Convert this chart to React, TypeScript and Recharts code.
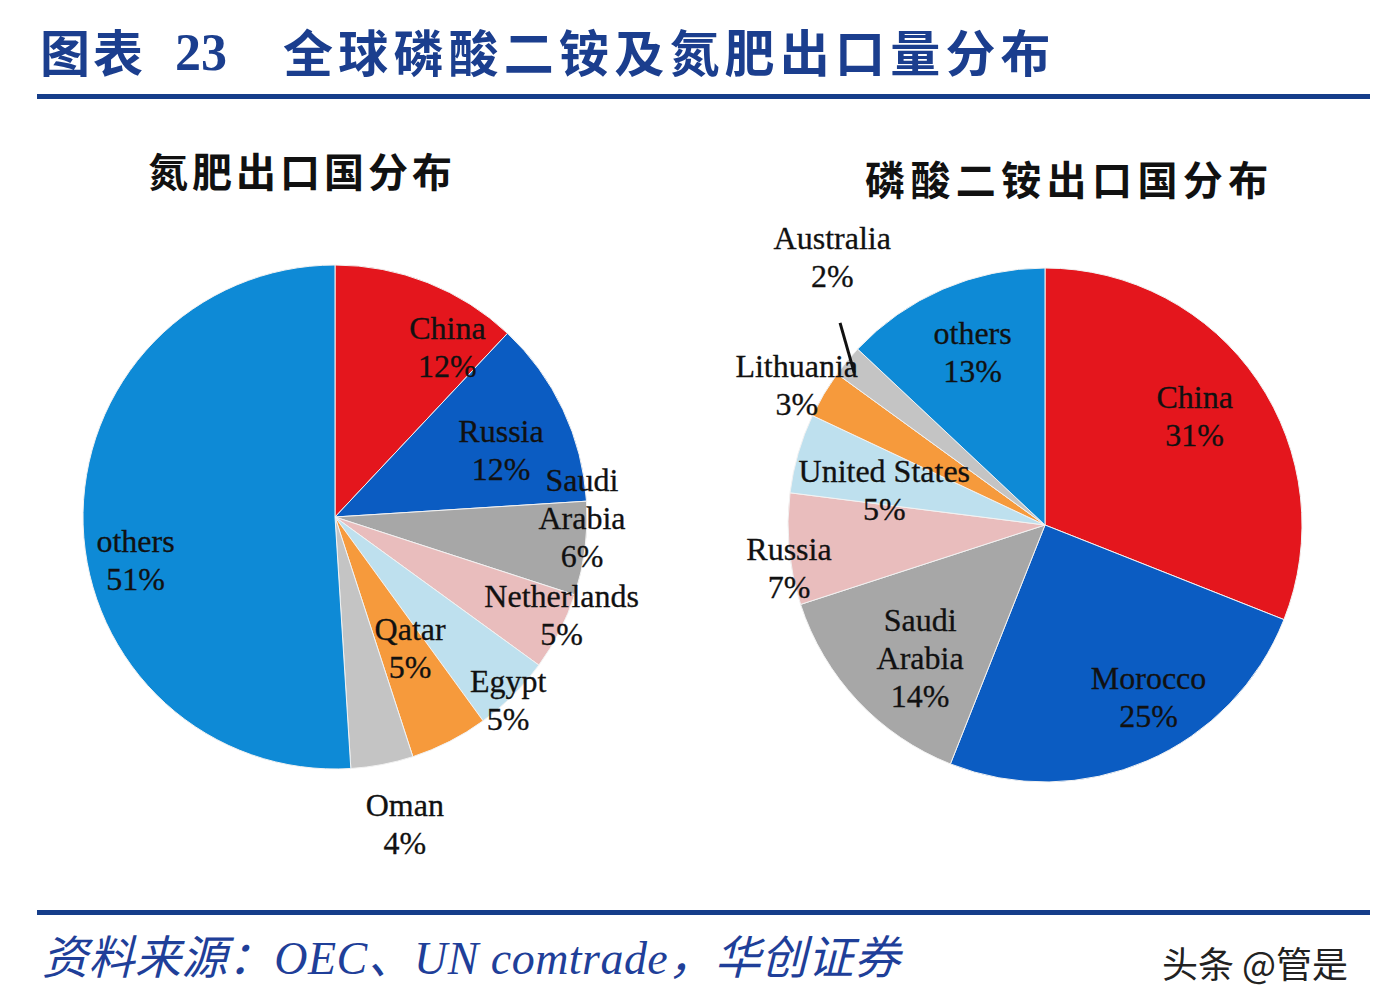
import { PieChart, Pie, Cell } from "recharts";

const nitrogenNames = ["China", "Russia", "Saudi\nArabia", "Netherlands", "Egypt", "Qatar", "Oman", "others"];
const nitrogenShares = [12, 12, 6, 5, 5, 5, 4, 51];

const dapNames = ["China", "Morocco", "Saudi\nArabia", "Russia", "United States", "Lithuania", "Australia", "others"];
const dapShares = [31, 25, 14, 7, 5, 3, 2, 13];

const sliceColors = ["#E4161D", "#0B5CC2", "#A7A7A7", "#E9BDBD", "#BEE0EE", "#F69A3C", "#C4C4C4", "#0E8AD6"];

// label placement per slice: [radius factor, clockwise shift in degrees]
const nitrogenLabelPos = [[0.81, 11.8], [0.71, 3.3], [0.98, -7], [0.98, -3.6], [1.0, 1.6], [0.6, -2.8], [1.25, -2], [0.81, -10.4]];
const dapLabelPos = [[0.72, -1.8], [0.78, -7.7], [0.71, -3.6], [1.01, -4.1], [0.64, -3.9], [1.11, -1.1], [1.33, 11.9], [0.73, 0.7]];

const nitrogenData = nitrogenNames.map((name, i) => ({ name, value: nitrogenShares[i] }));
const dapData = dapNames.map((name, i) => ({ name, value: dapShares[i] }));

const RAD = Math.PI / 180;
const LINE_H = 38;

function polar(cx: number, cy: number, r: number, deg: number) {
  return [cx + r * Math.cos(deg * RAD), cy - r * Math.sin(deg * RAD)];
}

function makeLabel(names: string[], shares: number[], pos: number[][], leaderIndex = -1) {
  return (props: any) => {
    const { cx, cy, midAngle, outerRadius, index } = props;
    const [f, shift] = pos[index];
    const [x, y] = polar(cx, cy, outerRadius * f, midAngle - shift);
    const lines = [...names[index].split("\n"), `${shares[index]}%`];
    const y0 = y - ((lines.length - 1) * LINE_H) / 2;
    let leader = null;
    if (index === leaderIndex) {
      const [x1, y1] = polar(cx, cy, outerRadius * 0.95, midAngle + 1);
      const [x2, y2] = polar(cx, cy, outerRadius * 1.12, midAngle - 5);
      leader = <line x1={x1} y1={y1} x2={x2} y2={y2} stroke="#111" strokeWidth={3} />;
    }
    return (
      <g>
        {leader}
        {lines.map((t, i) => (
          <text
            key={i}
            x={x}
            y={y0 + i * LINE_H}
            textAnchor="middle"
            dominantBaseline="central"
            fontFamily="'Liberation Serif', serif"
            fontSize={32}
            fill="#111"
            stroke="#111"
            strokeWidth={0.3}
          >
            {t}
          </text>
        ))}
      </g>
    );
  };
}

export default function App() {
  return (
    <div style={{ position: "absolute", left: 0, top: 0, width: 1374, height: 1008, background: "#fff", overflow: "hidden" }}>
      <PieChart width={1374} height={1008} margin={{ top: 0, right: 0, bottom: 0, left: 0 }}>
        <Pie
          data={nitrogenData}
          dataKey="value"
          nameKey="name"
          cx={335}
          cy={517}
          outerRadius={252}
          startAngle={90}
          endAngle={-270}
          stroke="#f2f2f2"
          strokeWidth={1}
          labelLine={false}
          label={makeLabel(nitrogenNames, nitrogenShares, nitrogenLabelPos)}
          isAnimationActive={false}
        >
          {nitrogenData.map((_, i) => (
            <Cell key={i} fill={sliceColors[i]} />
          ))}
        </Pie>
        <Pie
          data={dapData}
          dataKey="value"
          nameKey="name"
          cx={1045}
          cy={525}
          outerRadius={257}
          startAngle={90}
          endAngle={-270}
          stroke="#f2f2f2"
          strokeWidth={1}
          labelLine={false}
          label={makeLabel(dapNames, dapShares, dapLabelPos, 6)}
          isAnimationActive={false}
        >
          {dapData.map((_, i) => (
            <Cell key={i} fill={sliceColors[i]} />
          ))}
        </Pie>
      </PieChart>
      <svg width={1374} height={1008} style={{ position: "absolute", left: 0, top: 0, pointerEvents: "none" }}>
        <text x={40} y={50} dominantBaseline="central" fontFamily="'Noto Sans CJK SC'" fontWeight={700} fontSize={50} fill="#1B3E8E" letterSpacing={3}>
          图表
        </text>
        <text x={175} y={52} dominantBaseline="central" fontFamily="'Liberation Serif', serif" fontWeight={700} fontSize={52} fill="#1B3E8E">
          23
        </text>
        <text x={283} y={50} dominantBaseline="central" fontFamily="'Noto Sans CJK SC'" fontWeight={700} fontSize={50} fill="#1B3E8E" letterSpacing={5.2}>
          全球磷酸二铵及氮肥出口量分布
        </text>
        <rect x={37} y={94} width={1333} height={5} fill="#153D8A" />
        <text x={148} y={170} dominantBaseline="central" fontFamily="'Noto Sans CJK SC'" fontWeight={700} fontSize={40} fill="#111" letterSpacing={4}>
          氮肥出口国分布
        </text>
        <text x={865} y={178} dominantBaseline="central" fontFamily="'Noto Sans CJK SC'" fontWeight={700} fontSize={40} fill="#111" letterSpacing={5.4}>
          磷酸二铵出口国分布
        </text>
        <rect x={37} y={910} width={1333} height={5} fill="#153D8A" />
        <text
          x={42}
          y={958}
          dominantBaseline="central"
          fontFamily="'Liberation Serif', 'Noto Sans CJK SC'"
          fontStyle="italic"
          fontSize={46}
          fill="#1F3F99"
          textLength={858}
          lengthAdjust="spacing"
        >
          资料来源：OEC、UN comtrade，华创证券
        </text>
        <text x={1162} y={962} dominantBaseline="central" fontFamily="'Noto Sans CJK SC'" fontSize={36} fill="#222">
          头条 @管是
        </text>
      </svg>
    </div>
  );
}
